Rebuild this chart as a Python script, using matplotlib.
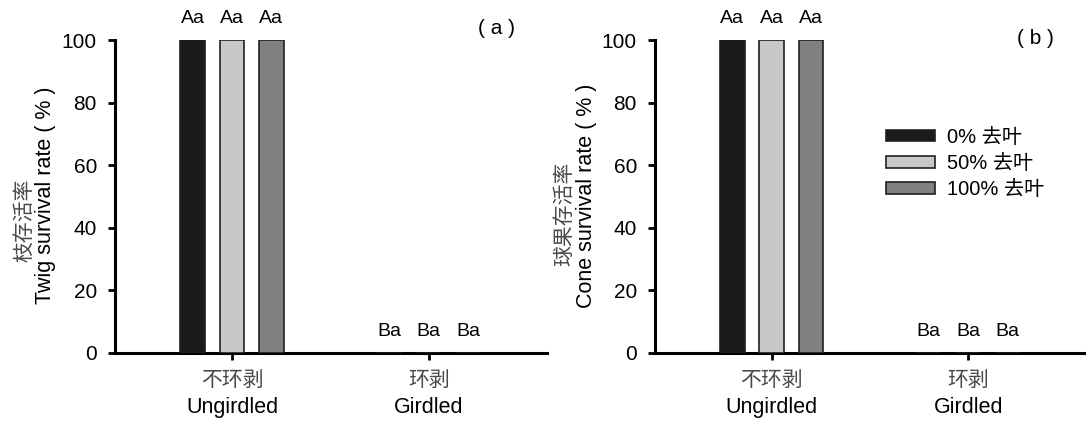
import matplotlib.pyplot as plt
import matplotlib.transforms as mtransforms
import numpy as np

plt.rcParams['font.family'] = ['Liberation Sans', 'Noto Sans CJK SC', 'DejaVu Sans']

# ---------- data ----------
categories = ['Ungirdled', 'Girdled']
categories_cn = ['不环剥', '环剥']
treatments = ['0% 去叶', '50% 去叶', '100% 去叶']
twig_survival = [[100, 0], [100, 0], [100, 0]]
cone_survival = [[100, 0], [100, 0], [100, 0]]
twig_letters = [['Aa', 'Ba'], ['Aa', 'Ba'], ['Aa', 'Ba']]
cone_letters = [['Aa', 'Ba'], ['Aa', 'Ba'], ['Aa', 'Ba']]
y_ticks = [0, 20, 40, 60, 80, 100]

colors = ['#1a1a1a', '#c8c8c8', '#808080']
edge = '#202020'
cn_color = '#4a4a4a'
offsets = [-0.2, 0.0, 0.2]
bar_w = 0.126

W, H = 1086, 421
fig = plt.figure(figsize=(W / 100, H / 100), dpi=100)
ax_a = fig.add_axes([115 / W, 1 - 353 / H, 432 / W, 313 / H])
ax_b = fig.add_axes([655 / W, 1 - 353 / H, 431 / W, 313 / H])


def draw_panel(ax, values, letters, tag, tag_y, ylab_en, ylab_cn, cn_y):
    x = np.arange(len(categories))
    for i, (vals, lets) in enumerate(zip(values, letters)):
        ax.bar(x + offsets[i], vals, width=bar_w, color=colors[i],
               edgecolor=edge, linewidth=1.2, label=treatments[i], zorder=3)
        for xi, v, lab in zip(x, vals, lets):
            ax.text(xi + offsets[i], v + 6.9, lab, ha='center', va='center',
                    fontsize=14, clip_on=False)

    ax.set_xlim(-0.594, 1.6)
    ax.set_ylim(0, 100)
    ax.set_yticks(y_ticks)
    ax.set_xticks(x)
    ax.set_xticklabels(categories, fontsize=15.5)
    ax.tick_params(axis='x', direction='out', length=5, width=2, pad=27)
    ax.tick_params(axis='y', direction='out', length=5, width=2, pad=8,
                   labelsize=15)
    for s in ['top', 'right']:
        ax.spines[s].set_visible(False)
    for s in ['left', 'bottom']:
        ax.spines[s].set_linewidth(2.2)

    # chinese line of the category labels
    trans = mtransforms.blended_transform_factory(ax.transData, ax.transAxes)
    for xi, cn in zip(x, categories_cn):
        ax.text(xi, -0.085, cn, transform=trans, ha='center', va='center',
                fontsize=15, color=cn_color, fontfamily='Noto Sans CJK SC',
                fontweight='light')

    ax.text(0.882, tag_y, tag, transform=ax.transAxes, ha='center',
            va='center', fontsize=15)

    # two-line y label
    ax.text(-0.16, 0.503, ylab_en, transform=ax.transAxes, rotation=90,
            ha='center', va='center', fontsize=15.5)
    ax.text(-0.21, cn_y, ylab_cn, transform=ax.transAxes, rotation=90,
            ha='center', va='center', fontsize=15, color=cn_color,
            fontfamily='Noto Sans CJK SC', fontweight='light')


draw_panel(ax_a, twig_survival, twig_letters, '( a )', 1.038,
           'Twig survival rate ( % )', '枝存活率', 0.425)
draw_panel(ax_b, cone_survival, cone_letters, '( b )', 1.005,
           'Cone survival rate ( % )', '球果存活率', 0.446)

ax_b.legend(loc='upper left', bbox_to_anchor=(0.537, 0.72), frameon=False,
            fontsize=14.5, handlelength=2.4, handleheight=0.5,
            labelspacing=0.36, handletextpad=0.6, borderpad=0,
            borderaxespad=0)

fig.savefig('out.png', dpi=100)
